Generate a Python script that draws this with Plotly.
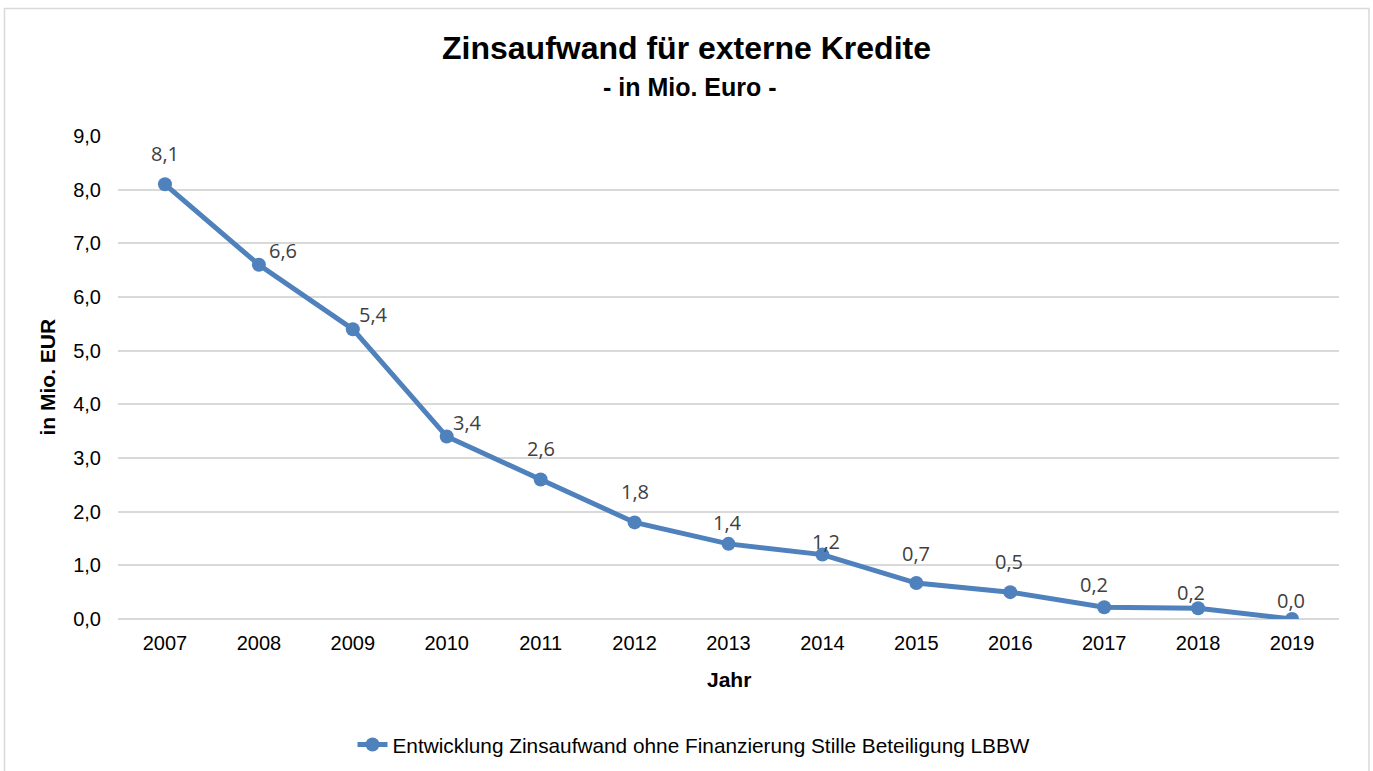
import plotly.graph_objects as go

years = ["2007", "2008", "2009", "2010", "2011", "2012", "2013", "2014", "2015", "2016", "2017", "2018", "2019"]
values = [8.1, 6.6, 5.4, 3.4, 2.6, 1.8, 1.4, 1.2, 0.67, 0.5, 0.22, 0.2, 0.0]
y_ticks = [0, 1, 2, 3, 4, 5, 6, 7, 8, 9]
y_tick_labels = ["0,0", "1,0", "2,0", "3,0", "4,0", "5,0", "6,0", "7,0", "8,0", "9,0"]
series_name = "Entwicklung Zinsaufwand ohne Finanzierung Stille Beteiligung LBBW"

# label offsets (pixels) relative to points
label_dx = [0, 24, 21, 21, 0, 0, -1, 4, 0, -1, -10, -7, -1]
label_dy = [31, 14, 15, 14, 31, 31, 21, 13, 30, 31, 23, 16, 19]

W, H = 1373, 771
ml, mr, mt, mb = 118, 34, 136, 152
pw, ph = W - ml - mr, H - mt - mb

def px(x):
    return (x - ml) / pw

def py(y):
    return (H - mb - y) / ph

color = "#4F81BD"
fig = go.Figure()
fig.add_trace(go.Scatter(
    x=years, y=values, mode="lines+markers", name=series_name,
    line=dict(color=color, width=5),
    marker=dict(color=color, size=14),
))

for i, v in enumerate(values):
    fig.add_annotation(
        x=i, y=v, xref="x", yref="y",
        text=f"{v:.1f}".replace(".", ","),
        showarrow=False, xshift=label_dx[i], yshift=label_dy[i],
        font=dict(family="Open Sans", size=20, color="#404040"),
    )

def label(x, y, text, size, angle=0):
    fig.add_annotation(x=x, y=y, xref="paper", yref="paper", text=text,
                       showarrow=False, textangle=angle,
                       xanchor="center", yanchor="middle",
                       font=dict(family="Liberation Sans", size=size, color="#000000"))

label(px(686.5), py(48), "<b>Zinsaufwand für externe Kredite</b>", 32)
label(px(690), py(87), "<b>- in Mio. Euro -</b>", 25)
label(px(47), 0.5, "<b>in Mio. EUR</b>", 21, -90)
label(px(729), py(679), "<b>Jahr</b>", 21)

# outer border
fig.add_shape(type="rect", xref="paper", yref="paper",
              x0=px(4.5), x1=px(1369), y0=py(790), y1=py(8.5),
              line=dict(color="#D9D9D9", width=1.5), fillcolor="rgba(0,0,0,0)", layer="below")

fig.update_layout(
    width=W, height=H,
    margin=dict(l=ml, r=mr, t=mt, b=mb, autoexpand=False),
    paper_bgcolor="white", plot_bgcolor="white",
    font=dict(family="Liberation Sans", size=20, color="#000000"),
    showlegend=True,
    legend=dict(orientation="h", x=px(694), xanchor="center", y=py(745), yanchor="middle",
                font=dict(family="Liberation Sans", size=20.8, color="#000000"),
                itemwidth=30),
    xaxis=dict(type="category", range=[-0.5, 12.5], showgrid=False, zeroline=False,
               showline=False, ticks="outside", ticklen=6, tickcolor="white",
               tickfont=dict(family="Liberation Sans", size=20, color="#000000")),
    yaxis=dict(range=[0, 9], tickvals=y_ticks, ticktext=y_tick_labels,
               showgrid=True, gridcolor="#D9D9D9", gridwidth=2,
               zeroline=True, zerolinecolor="#D9D9D9", zerolinewidth=2,
               showline=False, ticks="outside", ticklen=12, tickcolor="white",
               tickfont=dict(family="Liberation Sans", size=20, color="#000000")),
)

fig.write_html("out.html", config={"displayModeBar": False},
               post_script="document.body.style.margin='0';")
